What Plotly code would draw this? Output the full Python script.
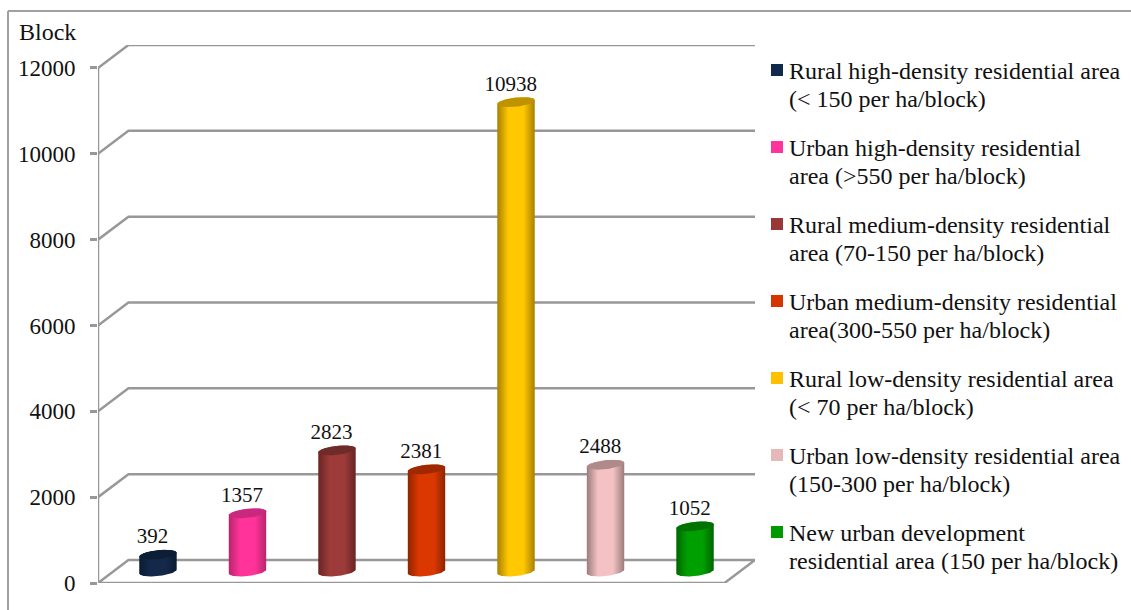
"""3D-style cylinder chart of residential block counts."""

import numpy as np
import plotly.graph_objects as go

CATEGORIES = [
    ["Rural high-density residential area", "(< 150 per ha/block)"],
    ["Urban high-density residential", "area (>550 per ha/block)"],
    ["Rural medium-density residential", "area (70-150 per ha/block)"],
    ["Urban medium-density residential", "area(300-550 per ha/block)"],
    ["Rural low-density residential area", "(< 70 per ha/block)"],
    ["Urban low-density residential area", "(150-300 per ha/block)"],
    ["New urban development", "residential area (150 per ha/block)"],
]
BLOCKS = [392, 1357, 2823, 2381, 10938, 2488, 1052]
Y_TICKS = [0, 2000, 4000, 6000, 8000, 10000, 12000]

# legend colour, cylinder edge, cylinder centre, cap
SWATCH = ["#0F2A4A", "#FF3399", "#993737", "#D63500", "#FFC000", "#E6B8B7", "#009A00"]
EDGE = ["#0B1B30", "#B8246E", "#672524", "#8F2400", "#A98000", "#9C7C7C", "#006600"]
CENTRE = ["#14294A", "#FF3399", "#9C3B3A", "#DB3800", "#FFC800", "#F4C2C2", "#009F00"]
CAP = ["#0C1E36", "#C9287F", "#6F2B2A", "#9E2800", "#BF9200", "#B08A8A", "#007200"]

GREY = "#989898"
INK = "#111111"
FONT = "Liberation Serif"

# layout in pixels
W, H = 1131, 610
PLOT_L, PLOT_R, PLOT_T, PLOT_B = 98, 755, 45, 583

# depth of the fake 3D box, in axis units
DEPTH_X = 0.34
DEPTH_Y = 535
X_MAX = len(BLOCKS) + DEPTH_X
Y_MAX = 12000 + DEPTH_Y

RADIUS_X = 0.209   # half cylinder width
RADIUS_Y = 105     # half height of the elliptical cap
TILT = 45          # caps lean up towards the right


def paper_x(px):
    return (px - PLOT_L) / (PLOT_R - PLOT_L)


def paper_y(py):
    return (PLOT_B - py) / (PLOT_B - PLOT_T)


def ellipse(cx, cy, start, stop):
    t = np.linspace(start, stop, 60)
    return cx + RADIUS_X * np.cos(t), cy + RADIUS_Y * np.sin(t) + TILT * np.cos(t)


fig = go.Figure()

# back wall gridlines and the axis
wall_x, wall_y = [0, 0, None], [0, 12000, None]
for v in Y_TICKS[1:]:
    wall_x += [0, DEPTH_X, X_MAX, None]
    wall_y += [v, v + DEPTH_Y, v + DEPTH_Y, None]
fig.add_trace(go.Scatter(
    x=wall_x, y=wall_y, mode="lines",
    line=dict(color=GREY, width=2.5),
    hoverinfo="skip", showlegend=False, cliponaxis=False,
))

# floor
fig.add_trace(go.Scatter(
    x=[0, DEPTH_X, X_MAX, len(BLOCKS), 0],
    y=[0, DEPTH_Y, DEPTH_Y, 0, 0],
    mode="lines",
    line=dict(color=GREY, width=2.5),
    hoverinfo="skip", showlegend=False, cliponaxis=False,
))

for i, value in enumerate(BLOCKS):
    cx = i + 0.5 + DEPTH_X / 2
    base = DEPTH_Y / 2
    top = base + value

    # body: front half of base ellipse, then up and over the top ellipse
    bx, by = ellipse(cx, base, np.pi, 2 * np.pi)
    tx, ty = ellipse(cx, top, 0, np.pi)
    fig.add_trace(go.Scatter(
        x=np.r_[bx, tx], y=np.r_[by, ty],
        mode="lines", fill="toself",
        line=dict(width=0),
        fillgradient=dict(
            type="horizontal",
            colorscale=[[0, EDGE[i]], [0.3, CENTRE[i]], [0.7, CENTRE[i]], [1, EDGE[i]]],
        ),
        hoverinfo="skip", showlegend=False, cliponaxis=False,
    ))

    # cap
    capx, capy = ellipse(cx, top, 0, 2 * np.pi)
    fig.add_trace(go.Scatter(
        x=capx, y=capy, mode="lines", fill="toself",
        line=dict(width=0), fillcolor=CAP[i],
        hoverinfo="skip", showlegend=False, cliponaxis=False,
    ))

    # value label
    fig.add_trace(go.Scatter(
        x=[cx - 0.06], y=[top + 145],
        mode="text", text=[str(value)], textposition="top center",
        textfont=dict(family=FONT, size=21, color=INK),
        showlegend=False, cliponaxis=False,
        hovertemplate=f"{value}<extra></extra>",
    ))

annotations = [dict(
    text="Block", xref="paper", yref="paper",
    x=paper_x(17), y=paper_y(32), xanchor="left", yanchor="middle",
    showarrow=False, font=dict(family=FONT, size=24, color=INK),
)]

# picture frame: only the top and left edges show
frame = dict(type="line", xref="paper", yref="paper", layer="below",
             line=dict(color="#A0A0A0", width=2))
shapes = [
    dict(frame, x0=paper_x(8), x1=paper_x(W), y0=paper_y(11), y1=paper_y(11)),
    dict(frame, x0=paper_x(8), x1=paper_x(8), y0=paper_y(11), y1=paper_y(H)),
]

# legend keys and their two text lines
for i, lines in enumerate(CATEGORIES):
    row = 71 + 77 * i
    shapes.append(dict(
        type="rect", xref="paper", yref="paper",
        x0=paper_x(771), x1=paper_x(783), y0=paper_y(row + 5), y1=paper_y(row - 7),
        line=dict(width=0), fillcolor=SWATCH[i],
    ))
    for j, line in enumerate(lines):
        annotations.append(dict(
            text=line, xref="paper", yref="paper",
            x=paper_x(786.5), y=paper_y(row + 27.5 * j), xanchor="left", yanchor="middle",
            showarrow=False, font=dict(family=FONT, size=24, color=INK),
        ))

fig.update_layout(
    width=W, height=H,
    autosize=False,
    showlegend=False,
    paper_bgcolor="white",
    plot_bgcolor="white",
    font=dict(family=FONT, size=23, color=INK),
    margin=dict(l=PLOT_L, r=W - PLOT_R, t=PLOT_T, b=H - PLOT_B, autoexpand=False),
    annotations=annotations,
    shapes=shapes,
)
fig.update_xaxes(range=[0, X_MAX], visible=False)
fig.update_yaxes(
    range=[0, Y_MAX],
    tickvals=Y_TICKS,
    tickformat="d",
    ticks="outside", ticklen=7, tickwidth=2.5, tickcolor=GREY,
    ticklabelstandoff=10,
    showgrid=False, zeroline=False, showline=False,
    tickfont=dict(family=FONT, size=23, color=INK),
)

# the page's default body margin would push the figure off the window
fig.write_html(
    "out.html",
    config=dict(displayModeBar=False),
    post_script="document.body.style.margin = '0'; document.body.style.overflow = 'hidden';",
)
